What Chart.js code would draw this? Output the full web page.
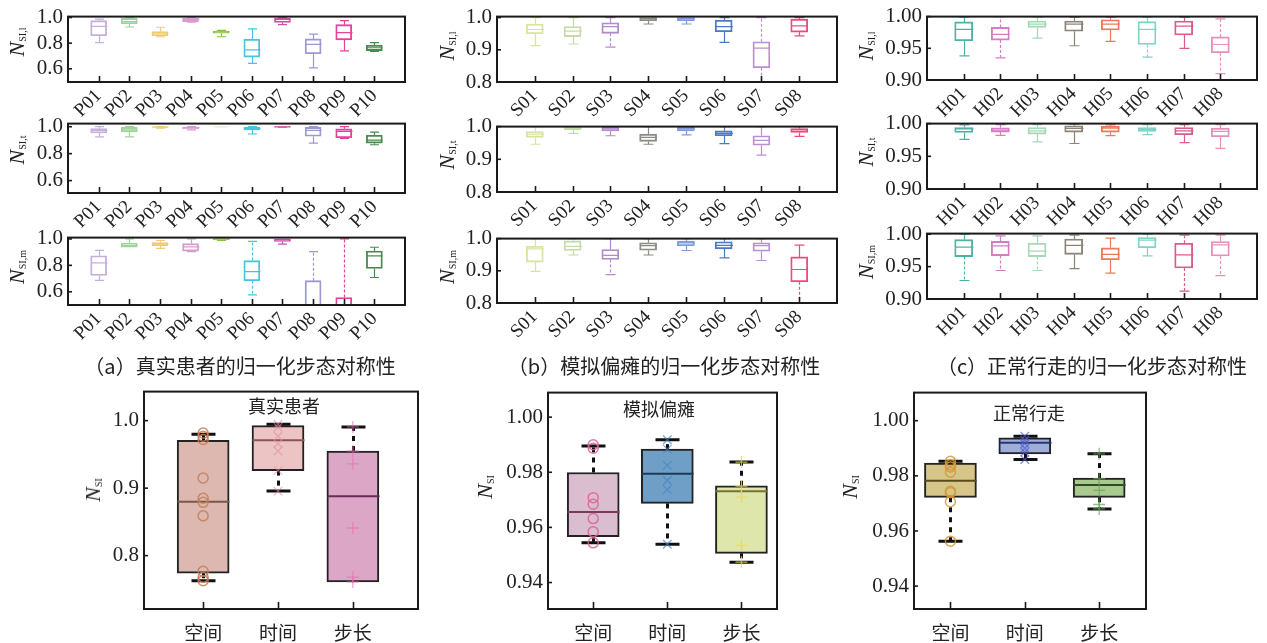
<!DOCTYPE html>
<html><head><meta charset="utf-8">
<script src="https://cdn.jsdelivr.net/npm/chart.js@4.4.1/dist/chart.umd.min.js"></script>
<style>
body{margin:0;background:#fff;width:1267px;height:643px;position:relative;overflow:hidden;}
.yt{position:absolute;transform:translate(-50%,-50%) rotate(-90deg);font-family:'Liberation Serif','DejaVu Serif',serif;font-size:22px;white-space:nowrap;color:#222;line-height:1}
.yt sub{font-size:10px;font-style:normal;vertical-align:-2px}
.tx{position:absolute;transform:translate(-50%,-50%);font-family:"Noto Sans CJK SC",sans-serif;white-space:nowrap;color:#222;line-height:1}
</style></head><body>
<script>
// ---------- categories & ticks ----------
const catsP = ['P01','P02','P03','P04','P05','P06','P07','P08','P09','P10'];
const catsS = ['S01','S02','S03','S04','S05','S06','S07','S08'];
const catsH = ['H01','H02','H03','H04','H05','H06','H07','H08'];
const catsSum = ['空间','时间','步长'];
const ticksA = [0.6,0.8,1.0];
const ticksB = [0.8,0.9,1.0];
const ticksC = [0.90,0.95,1.00];
const ticksSumA = [0.8,0.9,1.0];
const ticksSumB = [0.94,0.96,0.98,1.00];
const ticksSumC = [0.94,0.96,0.98,1.00];

// ---------- (a) real patients ----------
const aL_min=[0.804,0.926,0.850,0.963,0.850,0.642,0.944,0.607,0.740,0.735];
const aL_q1 =[0.858,0.951,0.858,0.968,0.877,0.691,0.961,0.718,0.826,0.742];
const aL_med=[0.931,0.968,0.877,0.988,0.887,0.747,0.985,0.791,0.882,0.764];
const aL_q3 =[0.975,0.993,0.890,0.995,0.894,0.831,0.995,0.833,0.944,0.784];
const aL_max=[0.988,1.000,0.924,1.000,0.900,0.912,1.000,0.870,0.975,0.804];

const aT_min=[0.925,0.925,0.990,0.977,0.997,0.946,0.996,0.878,0.913,0.866];
const aT_q1 =[0.953,0.962,0.994,0.985,0.998,0.976,0.998,0.929,0.918,0.878];
const aT_med=[0.972,0.976,0.997,0.993,0.999,0.986,0.999,0.972,0.965,0.901];
const aT_q3 =[0.986,0.995,0.999,0.998,1.000,0.995,1.000,0.995,0.984,0.936];
const aT_max=[1.000,1.000,1.000,1.000,1.000,1.000,1.000,1.000,1.000,0.960];

const aM_min=[0.687,0.937,0.928,0.904,0.988,0.576,0.961,0.300,0.200,0.708];
const aM_q1 =[0.723,0.937,0.949,0.908,0.993,0.684,0.981,0.420,0.350,0.776];
const aM_med=[0.819,0.949,0.961,0.940,0.998,0.752,0.993,0.450,0.400,0.872];
const aM_q3 =[0.872,0.969,0.973,0.964,1.000,0.836,1.000,0.684,0.557,0.908];
const aM_max=[0.913,1.000,0.988,1.000,1.000,0.981,1.000,0.904,1.000,0.937];

// ---------- (b) simulated hemiplegia ----------
const bL_min=[0.913,0.918,0.908,0.980,0.980,0.923,0.780,0.943];
const bL_q1 =[0.950,0.941,0.951,0.990,0.990,0.956,0.844,0.955];
const bL_med=[0.963,0.958,0.972,0.997,0.997,0.972,0.905,0.974];
const bL_q3 =[0.980,0.972,0.984,1.000,1.000,0.992,0.925,0.995];
const bL_max=[1.000,1.000,1.000,1.000,1.000,1.000,1.000,1.000];

const bT_min=[0.946,0.979,0.972,0.946,0.975,0.948,0.913,0.970];
const bT_q1 =[0.967,0.990,0.987,0.955,0.987,0.972,0.943,0.982];
const bT_med=[0.977,0.995,0.995,0.967,0.994,0.979,0.958,0.990];
const bT_q3 =[0.985,1.000,0.999,0.977,0.999,0.987,0.972,0.994];
const bT_max=[1.000,1.000,1.000,1.000,1.000,1.000,1.000,1.000];

const bM_min=[0.898,0.949,0.888,0.949,0.963,0.940,0.932,0.780];
const bM_q1 =[0.927,0.963,0.935,0.964,0.978,0.968,0.961,0.866];
const bM_med=[0.968,0.976,0.948,0.978,0.987,0.979,0.978,0.904];
const bM_q3 =[0.976,0.993,0.966,0.987,0.992,0.990,0.987,0.943];
const bM_max=[1.000,1.000,1.000,1.000,1.000,1.000,1.000,0.980];

// ---------- (c) normal walking ----------
const cL_min=[0.938,0.935,0.966,0.954,0.961,0.936,0.950,0.910];
const cL_q1 =[0.962,0.963,0.983,0.977,0.979,0.956,0.971,0.943];
const cL_med=[0.980,0.972,0.988,0.988,0.988,0.980,0.985,0.956];
const cL_q3 =[0.9916,0.983,0.993,0.993,0.995,0.992,0.993,0.968];
const cL_max=[0.999,1.000,0.999,0.999,0.999,0.999,0.999,0.9965];

const cT_min=[0.976,0.982,0.972,0.9696,0.9816,0.983,0.971,0.962];
const cT_q1 =[0.9865,0.987,0.984,0.987,0.987,0.988,0.983,0.980];
const cT_med=[0.992,0.990,0.989,0.9928,0.993,0.991,0.989,0.988];
const cT_q3 =[0.994,0.9937,0.994,0.9966,0.996,0.994,0.994,0.993];
const cT_max=[0.998,0.9985,0.9985,0.999,0.998,0.9985,0.9985,0.9985];

const cM_min=[0.9286,0.944,0.944,0.947,0.940,0.9665,0.9123,0.936];
const cM_q1 =[0.9655,0.967,0.9655,0.969,0.9606,0.979,0.948,0.9665];
const cM_med=[0.980,0.982,0.974,0.9828,0.969,0.991,0.968,0.9837];
const cM_q3 =[0.9916,0.989,0.986,0.9926,0.979,0.995,0.986,0.9887];
const cM_max=[1.000,0.9975,0.9975,0.9985,0.994,1.000,0.9985,0.9985];

// ---------- summary panels ----------
const sumA_min=[0.763,0.8956,0.761], sumA_q1=[0.774,0.926,0.761], sumA_med=[0.880,0.971,0.888], sumA_q3=[0.971,0.9927,0.955], sumA_max=[0.980,0.9946,0.9907];
const sumA_spatial=[0.9815,0.977,0.972,0.915,0.885,0.879,0.859,0.777,0.768,0.763];
const sumA_time=[0.9946,0.990,0.977,0.966,0.955,0.926,0.8956];
const sumA_step=[0.9907,0.955,0.936,0.841,0.768,0.761];

const sumB_min=[0.9544,0.9539,0.9474], sumB_q1=[0.9566,0.9687,0.9506], sumB_med=[0.9656,0.9795,0.9731], sumB_q3=[0.9799,0.9884,0.9751], sumB_max=[0.9895,0.9918,0.9837];
const sumB_spatial=[0.990,0.9887,0.9708,0.9684,0.9632,0.9584,0.9544];
const sumB_time=[0.9918,0.9884,0.9825,0.977,0.9737,0.9539];
const sumB_step=[0.9837,0.975,0.971,0.9536,0.9474];

const sumC_min=[0.9563,0.9859,0.968], sumC_q1=[0.9722,0.988,0.9722], sumC_med=[0.9782,0.992,0.9767], sumC_q3=[0.9846,0.9938,0.9792], sumC_max=[0.9853,0.9944,0.988];
const sumC_spatial=[0.9853,0.984,0.9832,0.9813,0.9744,0.974,0.9706,0.9563];
const sumC_time=[0.9944,0.993,0.9917,0.990,0.9886,0.9859];
const sumC_step=[0.988,0.979,0.9747,0.9696,0.968];

// ---------- styles ----------
const serif="'Liberation Serif','DejaVu Serif',serif";
const colP=['#c4b0dc','#9ed49a','#f0cc70','#d89ad0','#8cc040','#48c4dc','#d050a8','#9c98d4','#e8409c','#4a8a50'];
const colPT=['#c4b0dc','#9ed49a','#f0cc70','#d89ad0','#eef3dc','#48c4dc','#d050a8','#9c98d4','#e8409c','#4a8a50'];
const colS=['#d8e4a0','#c4dca8','#b488cc','#8c8c84','#7c9cdc','#4c78c4','#b890d4','#ec4c7c'];
const colH=['#4fb3a3','#d67cc4','#a6d8b4','#8c8476','#f07858','#7fd4c4','#d85c8c','#e890bc'];

const boxPlugin={
  id:'boxp',
  afterDatasetDraw(chart,args){
    const o=chart.options.plugins.boxp; if(!o||args.meta.type!=='bar') return;
    const {ctx,chartArea:a,scales:{x,y}}=chart;
    ctx.save(); ctx.beginPath(); ctx.rect(a.left,a.top,a.right-a.left,a.bottom-a.top); ctx.clip();
    const ln=(x1,y1,x2,y2)=>{ctx.beginPath();ctx.moveTo(x1,y1);ctx.lineTo(x2,y2);ctx.stroke();};
    o.xs.forEach((xv,i)=>{
      const px=Math.round(x.getPixelForValue(xv))+0.5;
      const s=o.stats;
      const yMin=y.getPixelForValue(s.min[i]), yQ1=y.getPixelForValue(s.q1[i]), yMed=y.getPixelForValue(s.med[i]),
            yQ3=y.getPixelForValue(s.q3[i]), yMax=y.getPixelForValue(s.max[i]);
      const wc=o.whiskerColor||o.colors[i];
      ctx.strokeStyle=wc; ctx.lineWidth=o.wLW;
      const d=(o.dash&&o.dash[i])||'';
      ctx.setLineDash(d.includes('u')?o.dashPat:[]); ln(px,yQ3,px,yMax);
      ctx.setLineDash(d.includes('l')?o.dashPat:[]); ln(px,yQ1,px,yMin);
      ctx.setLineDash([]); ctx.lineWidth=o.capLW;
      if(s.max[i]>s.q3[i]) ln(px-o.capW/2,yMax,px+o.capW/2,yMax);
      if(s.min[i]<s.q1[i]) ln(px-o.capW/2,yMin,px+o.capW/2,yMin);
      ctx.strokeStyle=o.medColors?o.medColors[i]:o.colors[i]; ctx.lineWidth=o.medLW;
      ln(px-o.boxW/2,yMed,px+o.boxW/2,yMed);
    });
    ctx.restore();
  },
  afterDraw(chart){
    const o=chart.options.plugins.boxp; if(!o) return;
    const {ctx,chartArea:a,scales:{x,y}}=chart;
    ctx.save(); ctx.strokeStyle='#1a1a1a'; ctx.lineWidth=2;
    ctx.strokeRect(a.left,a.top,a.right-a.left,a.bottom-a.top);
    ctx.lineWidth=1.6;
    x.ticks.forEach(t=>{const p=Math.round(x.getPixelForValue(t.value))+0.5;ctx.beginPath();ctx.moveTo(p,a.bottom);ctx.lineTo(p,a.bottom-o.tickLen);ctx.stroke();});
    y.ticks.forEach(t=>{const p=y.getPixelForValue(t.value);ctx.beginPath();ctx.moveTo(a.left,p);ctx.lineTo(a.left+4,p);ctx.stroke();});
    ctx.restore();
  }
};

function makePanel(c){
  const yW=70,padT=14,padR=14;
  const [l,t,r,b]=c.rect.map(Math.round);
  const W=r-l+yW+padR, H=b-t+padT+c.xH;
  const cv=document.createElement('canvas');
  cv.width=W;cv.height=H;
  cv.style.cssText=`position:absolute;left:${l-yW}px;top:${t-padT}px;width:${W}px;height:${H}px`;
  document.body.appendChild(cv);
  const datasets=[];
  (c.points||[]).forEach(p=>datasets.push({type:'scatter',showLine:false,data:p.vals.map(v=>({x:p.x,y:v})),
    pointStyle:p.style,pointRadius:p.r,borderColor:p.color,backgroundColor:'rgba(0,0,0,0)',pointBorderWidth:p.lw||1.3}));
  datasets.push({type:'bar',data:c.xs.map((xv,i)=>({x:xv,y:[c.stats.q1[i],c.stats.q3[i]]})),
    backgroundColor:c.fills,borderColor:c.boxBorder||c.colors,borderWidth:c.lw,borderSkipped:false,barThickness:c.boxW});
  new Chart(cv,{type:'bar',data:{datasets},
    options:{responsive:false,animation:false,devicePixelRatio:1,
      layout:{padding:{top:padT,right:padR,left:0,bottom:0}},
      plugins:{legend:{display:false},tooltip:{enabled:false},
        boxp:{xs:c.xs,stats:c.stats,colors:c.colors,medColors:c.medColors,whiskerColor:c.whiskerColor,dash:c.dash,
          dashPat:c.dashPat||[3,2],boxW:c.boxW,capW:c.capW,wLW:c.wLW,capLW:c.capLW,medLW:c.medLW,tickLen:c.tickLen||6}},
      scales:{
        x:{type:'linear',min:c.xr[0],max:c.xr[1],offset:false,grid:{display:false,drawTicks:false,offset:false},border:{display:false},
          afterBuildTicks:s=>{s.ticks=c.xs.map(v=>({value:v}));},
          afterFit:s=>{s.height=c.xH;},
          ticks:{autoSkip:false,maxRotation:c.rot,minRotation:c.rot,padding:c.xPad,color:'#222',
            font:{family:c.xFamily,size:c.xSize},callback:(v,i)=>c.cats[i]}},
        y:{type:'linear',min:c.yr[0],max:c.yr[1],grid:{display:false,drawTicks:false},border:{display:false},
          afterBuildTicks:s=>{s.ticks=c.yTicks.map(v=>({value:v}));},
          afterFit:s=>{s.width=yW;},
          ticks:{padding:5,color:'#222',font:{family:serif,size:21},callback:v=>v.toFixed(c.yDec)}}
      }}});
}
Chart.register(boxPlugin);

const xsP=catsP.map((_,i)=>i+1), xsS=catsS.map((_,i)=>i+1), xsH=catsH.map((_,i)=>i+1), xsSum=[0,1,2];
const topCommon={xH:50,rot:45,xPad:3,xFamily:serif,xSize:19,lw:1.2,wLW:1.2,capLW:1.2,medLW:1.2,fills:'rgba(255,255,255,0)'};

// (a)
makePanel({...topCommon,rect:[68,13,405,82],xr:[0,11],xs:xsP,cats:catsP,yr:[0.497,1.007],yTicks:ticksA,yDec:1,
  stats:{min:aL_min,q1:aL_q1,med:aL_med,q3:aL_q3,max:aL_max},colors:colP,boxW:16,capW:9});
makePanel({...topCommon,rect:[68,120,405,193],xr:[0,11],xs:xsP,cats:catsP,yr:[0.508,1.023],yTicks:ticksA,yDec:1,
  stats:{min:aT_min,q1:aT_q1,med:aT_med,q3:aT_q3,max:aT_max},colors:colPT,boxW:16,capW:9});
makePanel({...topCommon,rect:[68,234,405,305],xr:[0,11],xs:xsP,cats:catsP,yr:[0.5,1.01],yTicks:ticksA,yDec:1,
  stats:{min:aM_min,q1:aM_q1,med:aM_med,q3:aM_q3,max:aM_max},colors:colP,boxW:16,capW:9,
  dash:['','','','','','ul','','ul','u','']});
// (b)
makePanel({...topCommon,rect:[497,13,837,82],xr:[0,9],xs:xsS,cats:catsS,yr:[0.8,1.003],yTicks:ticksB,yDec:1,
  stats:{min:bL_min,q1:bL_q1,med:bL_med,q3:bL_q3,max:bL_max},colors:colS,boxW:17,capW:10,
  dash:['','','l','','','','ul','']});
makePanel({...topCommon,rect:[497,123,837,192],xr:[0,9],xs:xsS,cats:catsS,yr:[0.8,1.0],yTicks:ticksB,yDec:1,
  stats:{min:bT_min,q1:bT_q1,med:bT_med,q3:bT_q3,max:bT_max},colors:colS,boxW:17,capW:10});
makePanel({...topCommon,rect:[497,235,837,303],xr:[0,9],xs:xsS,cats:catsS,yr:[0.8,1.0],yTicks:ticksB,yDec:1,
  stats:{min:bM_min,q1:bM_q1,med:bM_med,q3:bM_q3,max:bM_max},colors:colS,boxW:17,capW:10,
  dash:['','','l','','','','','l']});
// (c)
makePanel({...topCommon,rect:[927,13,1257,80],xr:[0,9],xs:xsH,cats:catsH,yr:[0.9,1.0],yTicks:ticksC,yDec:2,
  stats:{min:cL_min,q1:cL_q1,med:cL_med,q3:cL_q3,max:cL_max},colors:colH,boxW:18,capW:10,
  dash:['','ul','','','','l','','ul']});
makePanel({...topCommon,rect:[927,120,1257,189],xr:[0,9],xs:xsH,cats:catsH,yr:[0.9,1.0],yTicks:ticksC,yDec:2,
  stats:{min:cT_min,q1:cT_q1,med:cT_med,q3:cT_q3,max:cT_max},colors:colH,boxW:18,capW:10});
makePanel({...topCommon,rect:[927,230,1257,299],xr:[0,9],xs:xsH,cats:catsH,yr:[0.9,1.001],yTicks:ticksC,yDec:2,
  stats:{min:cM_min,q1:cM_q1,med:cM_med,q3:cM_q3,max:cM_max},colors:colH,boxW:18,capW:10,
  dash:['l','l','l','','','','ul','l']});

// summary panels
const sumCommon={xH:40,rot:0,xPad:12,xFamily:'Noto Sans CJK SC',xSize:19,lw:2,wLW:3,capLW:3,medLW:2,
  whiskerColor:'#111',boxBorder:'#222',dash:['ul','ul','ul'],dashPat:[5,5],boxW:52,capW:24,xs:xsSum,cats:catsSum,yDec:0,tickLen:7};
makePanel({...sumCommon,rect:[144,388,418,609],xr:[-0.79,2.87],yr:[0.721,1.043],yTicks:ticksSumA,yDec:1,
  stats:{min:sumA_min,q1:sumA_q1,med:sumA_med,q3:sumA_q3,max:sumA_max},colors:['#222','#222','#222'],
  fills:['#dcb8b0','#ecc4c4','#dca6c6'],medColors:['#7a5848','#8a5555','#6a2a55'],
  points:[{x:0,vals:sumA_spatial,style:'circle',r:5,color:'rgba(200,125,85,0.85)',lw:1.5},
          {x:1,vals:sumA_time,style:'crossRot',r:6,color:'rgba(225,140,160,0.6)'},
          {x:2,vals:sumA_step,style:'cross',r:6,color:'rgba(230,110,175,0.6)'}]});
makePanel({...sumCommon,rect:[548,389,777,609],xr:[-0.61,2.48],yr:[0.9304,1.0089],yTicks:ticksSumB,yDec:2,
  stats:{min:sumB_min,q1:sumB_q1,med:sumB_med,q3:sumB_q3,max:sumB_max},colors:['#222','#222','#222'],
  fills:['#dbbdd0','#6f9fc6','#dfe6ab'],medColors:['#7a3a58','#1d3b58','#7a7030'],
  points:[{x:0,vals:sumB_spatial,style:'circle',r:5,color:'rgba(215,100,150,0.85)',lw:1.5},
          {x:1,vals:sumB_time,style:'crossRot',r:6,color:'rgba(70,130,200,0.7)'},
          {x:2,vals:sumB_step,style:'cross',r:6,color:'rgba(225,225,70,0.8)'}]});
makePanel({...sumCommon,rect:[914,389,1146,609],xr:[-0.49,2.63],yr:[0.9317,1.0102],yTicks:ticksSumC,yDec:2,
  stats:{min:sumC_min,q1:sumC_q1,med:sumC_med,q3:sumC_q3,max:sumC_max},colors:['#222','#222','#222'],
  fills:['#d6c689','#9eaedb','#a9c98f'],medColors:['#5a4a1a','#2a3570','#2d4d25'],
  points:[{x:0,vals:sumC_spatial,style:'circle',r:5,color:'rgba(215,150,50,0.85)',lw:1.5},
          {x:1,vals:sumC_time,style:'crossRot',r:6,color:'rgba(80,90,200,0.7)'},
          {x:2,vals:sumC_step,style:'cross',r:6,color:'rgba(100,160,90,0.7)'}]});

// text labels
const texts=[
  ['yt',17,42,'<i>N</i><sub>SI,l</sub>'],['yt',17,150,'<i>N</i><sub>SI,t</sub>'],['yt',17,267,'<i>N</i><sub>SI,m</sub>'],
  ['yt',447,46,'<i>N</i><sub>SI,l</sub>'],['yt',447,155,'<i>N</i><sub>SI,t</sub>'],['yt',447,267,'<i>N</i><sub>SI,m</sub>'],
  ['yt',866,46,'<i>N</i><sub>SI,l</sub>'],['yt',866,152,'<i>N</i><sub>SI,t</sub>'],['yt',866,262,'<i>N</i><sub>SI,m</sub>'],
  ['yt',93,490,'<i>N</i><sub>SI</sub>'],['yt',485,487,'<i>N</i><sub>SI</sub>'],['yt',850,487,'<i>N</i><sub>SI</sub>'],
];
texts.forEach(([cls,x,y,h])=>{const d=document.createElement('div');d.className=cls;d.style.left=x+'px';d.style.top=y+'px';d.innerHTML=h;document.body.appendChild(d);});
const caps=[[240,366,20,'（a）真实患者的归一化步态对称性'],[664,366,20,'（b）模拟偏瘫的归一化步态对称性'],[1092,366,20,'（c）正常行走的归一化步态对称性'],
  [284,405,18,'真实患者'],[659,408,18,'模拟偏瘫'],[1029,412,18,'正常行走']];
caps.forEach(([x,y,fs,t])=>{const d=document.createElement('div');d.className='tx';d.style.left=x+'px';d.style.top=y+'px';d.style.fontSize=fs+'px';d.textContent=t;document.body.appendChild(d);});
</script>
</body></html>
